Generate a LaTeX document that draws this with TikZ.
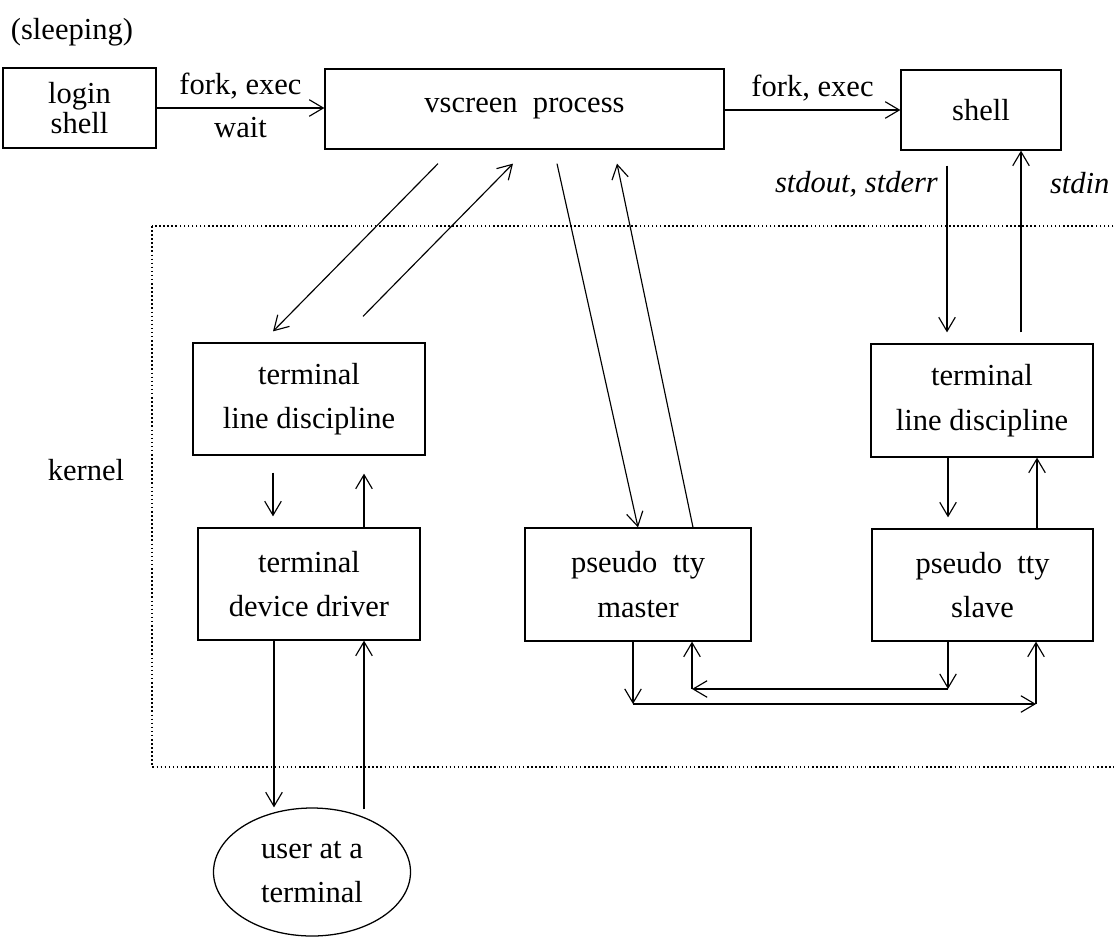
\documentclass[tikz,border=0pt]{standalone}
\usepackage{fontspec}
\setmainfont{Liberation Serif}
\usetikzlibrary{arrows.meta,shapes.geometric}
\newdimen\px \px=0.393pt

\begin{document}
\begin{tikzpicture}[
    x=\px, y=-\px,
    box/.style={draw, line width=0.5pt, inner sep=0pt, align=center, font=\fontsize{12}{17.5}\selectfont},
    arr/.style={-{Straight Barb[length=5.5pt,width=6.5pt]}, line width=0.45pt},
    lbl/.style={font=\fontsize{12}{14}\selectfont}
]
    \useasboundingbox (0,0) rectangle (1114,937);

    % kernel area
    \draw[densely dotted, line width=0.6pt] (152,226) rectangle (1140,767);
    \node[lbl] (kern) at (86,470) {kernel};

    % processes
    \node[lbl] (sleep) at (72,32) {(sleeping)};
    \node[box, font=\fontsize{12}{12}\selectfont, minimum width=153*\px, minimum height=80*\px] (login) at (79.5,108) {login\\shell};
    \node[box, minimum width=399*\px, minimum height=80*\px] (vs) at (524.5,109) {vscreen\ \ process};
    \node[box, minimum width=160*\px, minimum height=80*\px] (sh) at (981,110) {shell};

    % left side
    \node[box, minimum width=232*\px, minimum height=112*\px] (tldL) at (309,399) {terminal\\line discipline};
    \node[box, minimum width=222*\px, minimum height=112*\px] (tdd) at (309,584) {terminal\\device driver};
    \node[draw, ellipse, line width=0.5pt, inner sep=0pt, align=center, font=\fontsize{12}{17.5}\selectfont,
          minimum width=197*\px, minimum height=128*\px] (user) at (312,872) {user at a\\terminal};

    % pseudo tty pair
    \node[box, minimum width=226*\px, minimum height=113*\px] (ptm) at (638,584.5) {pseudo\ \ tty\\master};
    \node[box, minimum width=222*\px, minimum height=113*\px] (tldR) at (982,400.5) {terminal\\line discipline};
    \node[box, minimum width=221*\px, minimum height=112*\px] (pts) at (982.5,585) {pseudo\ \ tty\\slave};

    % top row connections
    \draw[arr] (login.east |- 0,108) -- node[lbl, above] {fork, exec} node[lbl, below] {wait} (vs.west |- 0,108);
    \draw[arr] (vs.east |- 0,110) -- node[lbl, above] {fork, exec} (sh.west |- 0,110);
    \draw[arr] ([shift={(-34,15)}]sh.south) -- node[lbl, left, pos=0.11] {\textit{stdout, stderr}} ([shift={(-35,-11)}]tldR.north);
    \draw[arr] ([shift={(39,-11)}]tldR.north) -- node[lbl, right, pos=0.82, xshift=20*\px] {\textit{stdin}} ([shift={(40,0)}]sh.south);

    % vscreen <-> kernel
    \draw[arr] ([shift={(-86.5,14)}]vs.south) -- ([shift={(-36,-11)}]tldL.north);
    \draw[arr] ([shift={(54,-26)}]tldL.north) -- ([shift={(-11.5,14)}]vs.south);
    \draw[arr] ([shift={(32.5,14)}]vs.south) -- (ptm.north);
    \draw[arr] ([shift={(55,0)}]ptm.north) -- ([shift={(92.5,14)}]vs.south);

    % terminal side
    \draw[arr] ([shift={(-36,17)}]tldL.south) -- ([shift={(-36,-11)}]tdd.north);
    \draw[arr] ([shift={(55,0)}]tdd.north) -- ([shift={(55,18)}]tldL.south);
    \draw[arr] ([shift={(-35,0)}]tdd.south) -- ([shift={(-38,0)}]user.north);
    \draw[arr] ([shift={(52,2)}]user.north) -- ([shift={(55,0)}]tdd.south);

    % shell side
    \draw[arr] ([shift={(-34,0)}]tldR.south) -- ([shift={(-34.5,-11)}]pts.north);
    \draw[arr] ([shift={(54.5,0)}]pts.north) -- ([shift={(55,0)}]tldR.south);

    % master <-> slave
    \coordinate (mLow) at (633,704);
    \coordinate (sLow) at (1036,704);
    \coordinate (sHigh) at (948,689);
    \coordinate (mHigh) at (692,689);
    \draw[arr] ([shift={(-5,0)}]ptm.south) -- (mLow);
    \draw[arr] (mLow) -- (sLow);
    \draw[arr] (sLow) -- ([shift={(53.5,0)}]pts.south);
    \draw[arr] ([shift={(-34.5,0)}]pts.south) -- (sHigh);
    \draw[arr] (sHigh) -- (mHigh);
    \draw[arr] (mHigh) -- ([shift={(54,0)}]ptm.south);
\end{tikzpicture}
\end{document}
